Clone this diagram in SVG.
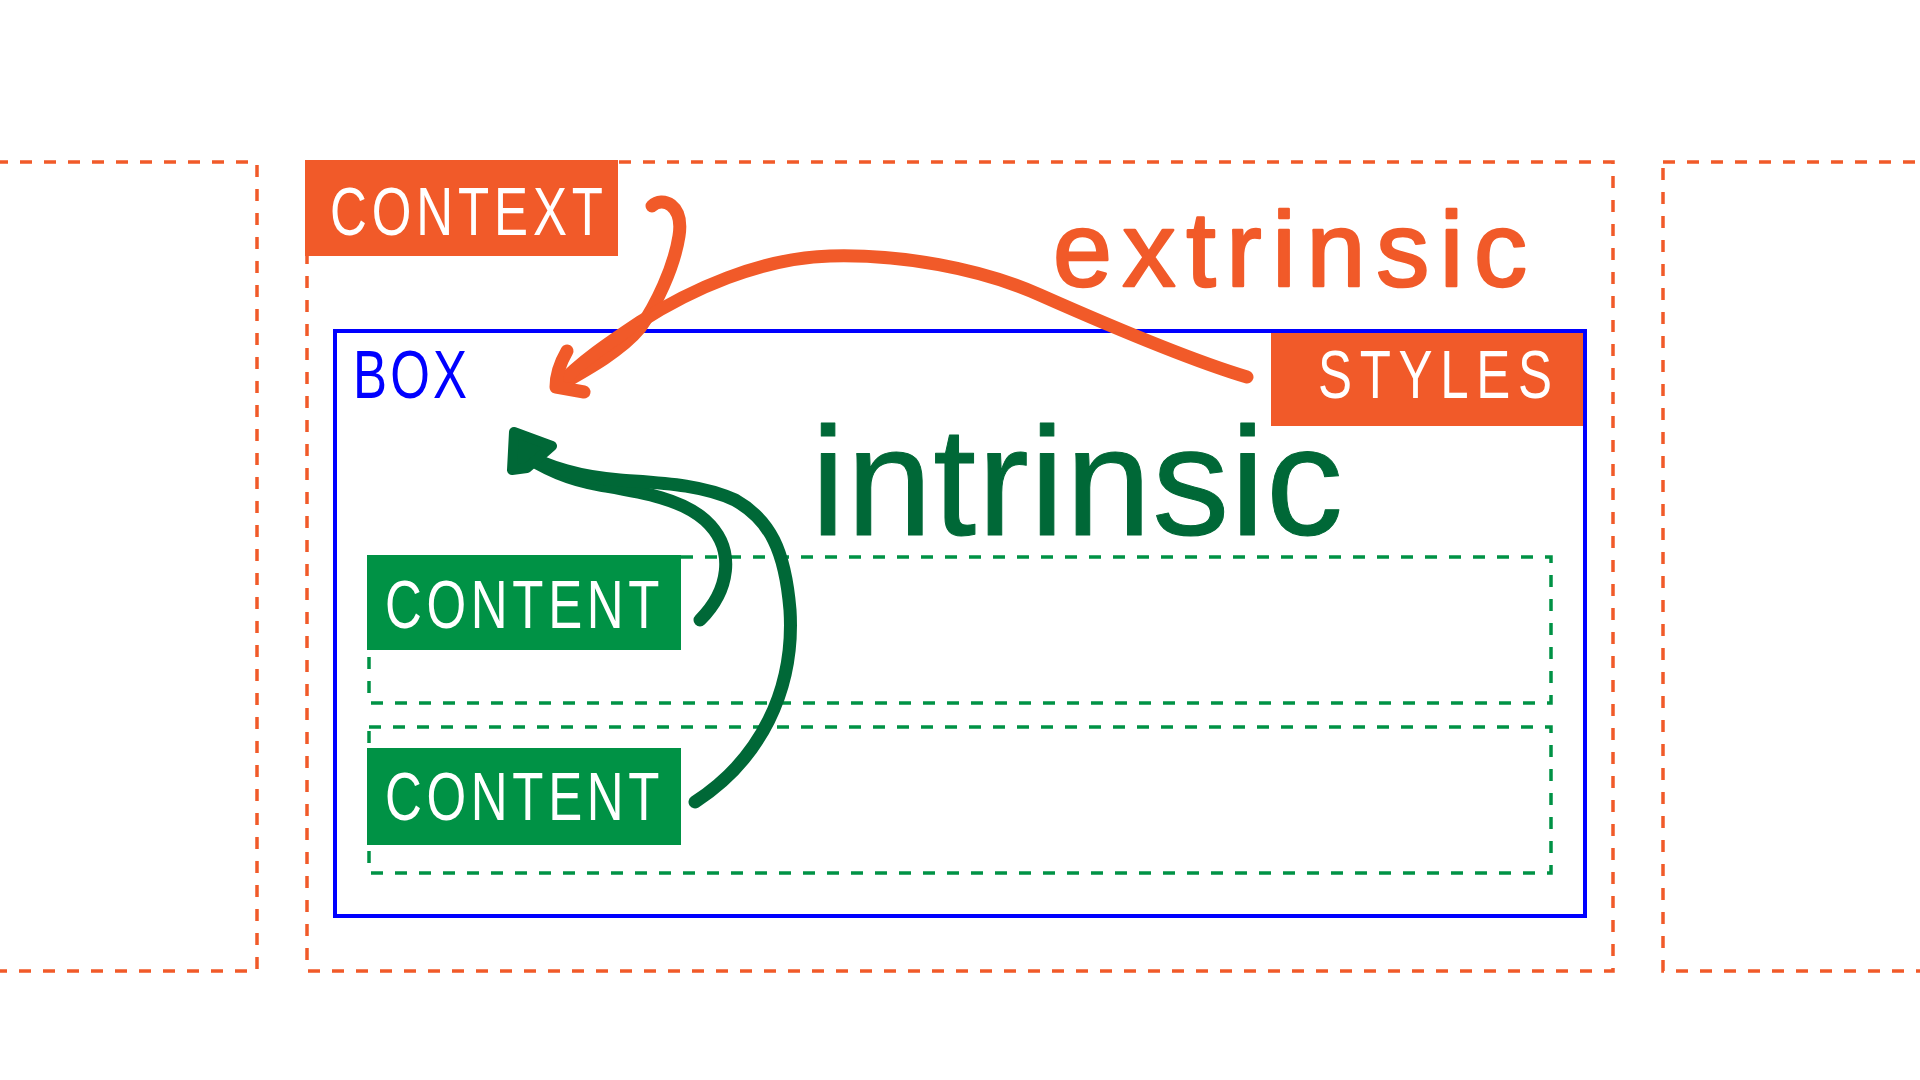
<svg xmlns="http://www.w3.org/2000/svg" width="1920" height="1080" viewBox="0 0 1920 1080">
<style>
.odash{fill:none;stroke:#F15A29;stroke-width:3.5;stroke-dasharray:12 12}
.gdash{fill:none;stroke:#009245;stroke-width:3.5;stroke-dasharray:12 12}
.lbl{font-family:"Liberation Sans","DejaVu Sans",sans-serif;font-size:68px;fill:#fff}
.hand{font-family:"Liberation Sans","DejaVu Sans",sans-serif;stroke-linejoin:round;stroke-linecap:round}
.ostroke{fill:none;stroke:#F15A29;stroke-width:13;stroke-linecap:round;stroke-linejoin:round}
.gstroke{fill:none;stroke:#006837;stroke-width:13;stroke-linecap:round;stroke-linejoin:round}
</style>
<rect width="1920" height="1080" fill="#fff"/>
<g id="context-left"><rect class="odash" x="-100" y="162" width="357" height="809"/></g>
<g id="context-right"><rect class="odash" x="1663" y="162" width="400" height="809"/></g>
<g id="context">
<rect class="odash" x="307" y="162" width="1306" height="809"/>
<rect x="305" y="160" width="313" height="96" fill="#F15A29"/>
<text class="lbl" transform="translate(330,235) scale(0.75,1)" x="0" y="0" textLength="364" lengthAdjust="spacing">CONTEXT</text>
</g>
<g id="box">
<rect x="335" y="331" width="1250" height="585" fill="none" stroke="#0000FF" stroke-width="4"/>
<text class="lbl" style="fill:#0000FF" transform="translate(353,398) scale(0.75,1)" x="0" y="0" textLength="152" lengthAdjust="spacing">BOX</text>
</g>
<g id="styles">
<rect x="1271" y="333" width="312" height="93" fill="#F15A29"/>
<text class="lbl" transform="translate(1318,398) scale(0.75,1)" x="0" y="0" textLength="312" lengthAdjust="spacing">STYLES</text>
</g>
<g id="content-1">
<rect class="gdash" x="369" y="557" width="1182" height="146"/>
<rect x="367" y="555" width="314" height="95" fill="#009245"/>
<text class="lbl" transform="translate(385,628) scale(0.75,1)" x="0" y="0" textLength="366" lengthAdjust="spacing">CONTENT</text>
</g>
<g id="content-2">
<rect class="gdash" x="369" y="727" width="1182" height="146"/>
<rect x="367" y="748" width="314" height="97" fill="#009245"/>
<text class="lbl" transform="translate(385,820) scale(0.75,1)" x="0" y="0" textLength="366" lengthAdjust="spacing">CONTENT</text>
</g>
<g id="extrinsic-label">
<text class="hand" x="1053" y="286" font-size="106" fill="#F15A29" stroke="#F15A29" stroke-width="2.5" textLength="474" lengthAdjust="spacing">extrinsic</text>
</g>
<g id="intrinsic-label">
<text class="hand" x="811" y="535" font-size="154" fill="#006837" stroke="#006837" stroke-width="1" textLength="532" lengthAdjust="spacing">intrinsic</text>
</g>
<g id="connectors">
<path class="ostroke" d="M652,206 C662,196 684,204 679,236 C674,268 656,305 640,328 C622,350 590,368 558,386"/>
<path class="ostroke" d="M1247,377 C1190,360 1110,326 1040,295 C980,268 900,254 830,256 C760,258 690,290 640,322 C610,342 580,362 558,386"/>
<path class="ostroke" d="M567,351 Q556,370 556,387 L584,392"/>
<path class="gstroke" d="M700,620 C728,592 738,550 705,520 C680,498 640,492 600,485 C570,480 545,470 520,452"/>
<path class="gstroke" d="M695,802 C760,760 795,690 790,610 C785,550 770,520 735,500 C700,484 660,483 620,480 C580,477 550,468 520,452"/>
<polygon points="514,432 552,446 527,468 512,470" fill="#006837" stroke="#006837" stroke-width="10" stroke-linejoin="round"/>
</g>
</svg>
